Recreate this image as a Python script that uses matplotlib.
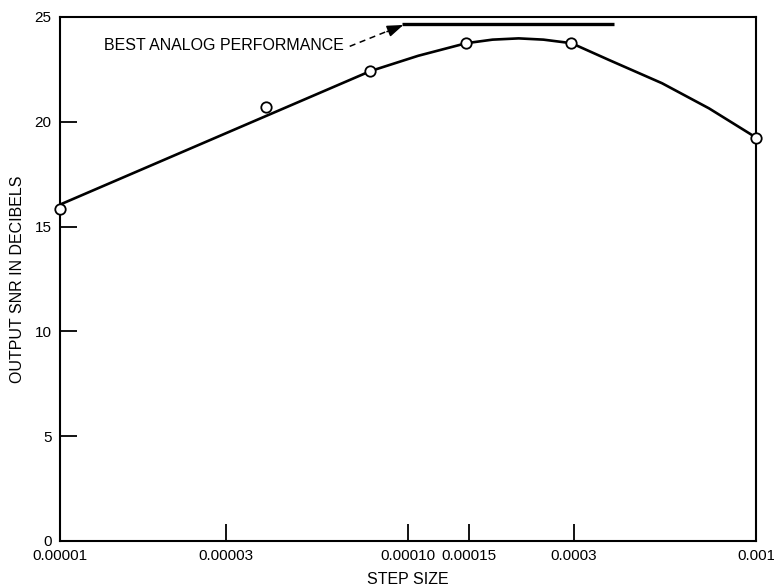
import matplotlib
matplotlib.use("Agg")
import matplotlib.pyplot as plt
from matplotlib.ticker import FixedLocator, NullLocator, FixedFormatter

# Measured data points (open circles)
step_pts = [1e-5, 3.9e-5, 7.8e-5, 1.47e-4, 2.95e-4, 1e-3]
snr_pts = [15.85, 20.72, 22.42, 23.75, 23.75, 19.25]

# Smooth fitted curve
curve_x = [1e-5, 7.8e-5, 1.07e-4, 1.47e-4, 1.75e-4, 2.08e-4, 2.45e-4, 2.95e-4,
           3.78e-4, 5.37e-4, 7.33e-4, 1e-3]
curve_y = [16.05, 22.42, 23.15, 23.75, 23.92, 23.98, 23.92, 23.75,
           22.95, 21.84, 20.64, 19.25]

# Best analog performance line
analog_x = [9.6e-5, 3.9e-4]
analog_y = [24.68, 24.68]

xticks = [1e-5, 3e-5, 1e-4, 1.5e-4, 3e-4, 1e-3]
xtick_labels = ["0.00001", "0.00003", "0.00010", "0.00015", "0.0003", "0.001"]
yticks = [0, 5, 10, 15, 20, 25]

plt.rcParams['font.family'] = ['Liberation Sans', 'DejaVu Sans']

fig = plt.figure(figsize=(7.74, 5.88), dpi=100)
ax = fig.add_axes([60/774, 47/588, 696/774, 524/588])

ax.plot(curve_x, curve_y, color='black', lw=1.9, zorder=2,
        solid_joinstyle='round')
ax.plot(step_pts, snr_pts, 'o', ms=7.5, mfc='white', mec='black', mew=1.3,
        zorder=3, clip_on=False)
ax.plot(analog_x, analog_y, color='black', lw=2.4, solid_capstyle='butt', zorder=2)

ax.text(6.56e-5, 23.62, "BEST ANALOG PERFORMANCE", ha='right', va='center',
        fontsize=11.5)
# dashed leader with a solid arrowhead
ax.plot([6.8e-5, 8.9e-5], [23.6, 24.38], color='black', lw=1.1,
        linestyle=(0, (4, 3)))
ax.annotate("", xy=(9.7e-5, 24.62), xytext=(8.7e-5, 24.3),
            arrowprops=dict(arrowstyle='-|>,head_length=0.7,head_width=0.25',
                            color='black', lw=1.1, mutation_scale=14,
                            shrinkA=0, shrinkB=0))

ax.set_xscale('log')
ax.set_xlim(1e-5, 1e-3)
ax.set_ylim(0, 25)
ax.xaxis.set_major_locator(FixedLocator(xticks))
ax.xaxis.set_major_formatter(FixedFormatter(xtick_labels))
ax.xaxis.set_minor_locator(NullLocator())
ax.set_yticks(yticks)

ax.tick_params(axis='both', direction='in', length=12, width=1.3, labelsize=11)
ax.tick_params(axis='x', pad=6)
ax.tick_params(axis='y', pad=6)

for s in ax.spines.values():
    s.set_linewidth(1.5)

ax.set_xlabel("STEP SIZE", fontsize=11.5, labelpad=6)
ax.set_ylabel("OUTPUT SNR IN DECIBELS", fontsize=11.5)
ax.yaxis.set_label_coords(-0.05, 0.5)

fig.savefig("out.png", dpi=100)
